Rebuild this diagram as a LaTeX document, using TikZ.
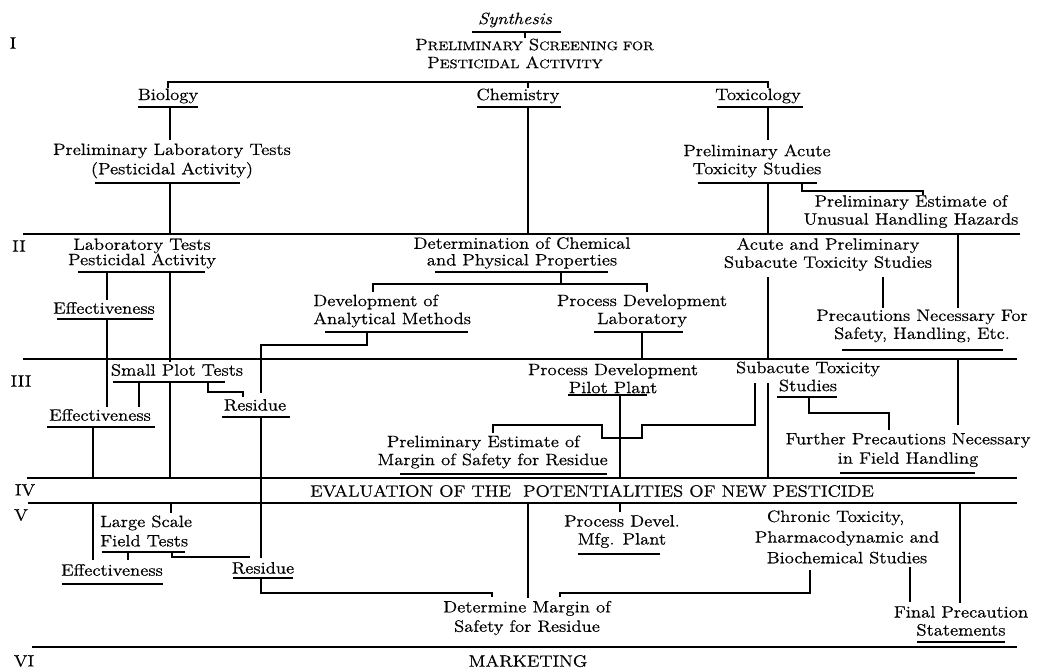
\documentclass[tikz,border=0pt]{standalone}
\usepackage{fontspec}
\setmainfont{Latin Modern Roman}[FakeStretch=1.14,FakeBold=0.6]
\newcommand{\SC}[1]{{\fontsize{9.25pt}{10pt}\selectfont #1}}
\begin{document}
\begin{tikzpicture}[x=0.75pt,y=-0.75pt,
  txt/.style={inner sep=0pt, align=center, font=\fontsize{12.3pt}{13.5pt}\selectfont},
  conn/.style={line width=1.15pt},
  stage/.style={line width=1.5pt},
  uline/.style={line width=0.8pt}]
\useasboundingbox (0,0) rectangle (1040,671);
% stage labels
\node[txt] (s1) at (13,43) {I};
\node[txt] (s2) at (19,246) {II};
\node[txt] (s3) at (21,381) {III};
\node[txt] (s4) at (25,490) {IV};
\node[txt] (s5) at (21,515) {V};
\node[txt] (s6) at (24,661) {VI};
% stage lines
\draw[stage] (23,234) -- (1020,234);
\draw[stage] (23,359) -- (1017,359);
\draw[stage] (27,478) -- (1017,478);
\draw[stage] (28,503) -- (1017,503);
\draw[stage] (32,647) -- (1017,647);
% texts
\node[txt] (syn) at (515,20) {\itshape Synthesis};
\node[txt, anchor=west, align=left] (pspa) at (415,53.5) {P\SC{RELIMINARY} S\SC{CREENING FOR}\\\hspace*{9pt}P\SC{ESTICIDAL} A\SC{CTIVITY}};
\node[txt] (bio) at (168,96) {Biology};
\node[txt] (chem) at (518,96) {Chemistry};
\node[txt] (tox) at (758,96) {Toxicology};
\node[txt] (plt) at (172,161) {Preliminary Laboratory Tests\\[1pt](Pesticidal Activity)};
\node[txt] (pat) at (757,161) {Preliminary Acute\\Toxicity Studies};
\node[txt] (peuh) at (911,211.5) {Preliminary Estimate of\\Unusual Handling Hazards};
\node[txt] (lt) at (142,253.5) {Laboratory Tests\\[-2pt]Pesticidal Activity};
\node[txt] (dcp) at (522,253) {Determination of Chemical\\[-1pt]and Physical Properties};
\node[txt] (aps) at (828,254.5) {Acute and Preliminary\\Subacute Toxicity Studies};
\node[txt] (eff2) at (104,308) {Effectiveness};
\node[txt, anchor=west, align=left] (dam) at (313,311) {Development of\\Analytical Methods};
\node[txt] (pdl) at (642,311) {Process Development\\Laboratory};
\node[txt] (pnf) at (922,326) {Precautions Necessary For\\Safety, Handling, Etc.};
\node[txt] (spt) at (177,370) {Small Plot Tests};
\node[txt] (res3) at (255,405) {Residue};
\node[txt] (eff3) at (100,415) {Effectiveness};
\node[txt] (pdpp) at (613,378.5) {Process Development\\Pilot Plant};
\node[txt] (sts) at (808,376.5) {Subacute Toxicity\\Studies};
\node[txt] (pems) at (488,452) {Preliminary Estimate of\hspace*{7pt}\\\hspace*{7pt}Margin of Safety for Residue};
\node[txt] (fpn) at (908,450) {Further Precautions Necessary\\[1pt]in Field Handling};
\node[txt] (eval) at (592,491) {EVALUATION OF THE\ \ POTENTIALITIES OF NEW PESTICIDE};
\node[txt, anchor=west, align=left] (lsft) at (100,531) {Large Scale\\[1pt]Field Tests};
\node[txt] (eff5) at (112,570) {Effectiveness};
\node[txt] (res5) at (263,568) {Residue};
\node[txt] (pdmp) at (622,531.5) {Process Devel.\\Mfg. Plant};
\node[txt] (ct) at (847,537) {Chronic Toxicity,\hspace*{17pt}\\[2pt]Pharmacodynamic and\\[2pt]Biochemical Studies};
\node[txt] (dms) at (527,618) {Determine Margin of\\[1pt]Safety for Residue};
\node[txt] (fps) at (961,621) {Final Precaution\\Statements};
\node[txt] (mkt) at (528,661) {MARKETING};
% underlines
\draw[uline] (472,32) -- (561,32);
\draw[uline] (138,107) -- (198,107);
\draw[uline] (477,107) -- (561,107);
\draw[uline] (717,107) -- (803,107);
\draw[uline] (95,183) -- (240,183);
\draw[uline] (698,183) -- (817,183);
\draw[uline] (78,272) -- (205,272);
\draw[uline] (435,272) -- (608,272);
\draw[uline] (57,319) -- (153,319);
\draw[uline] (325,332) -- (468,332);
\draw[uline] (594,332) -- (683,332);
\draw[uline] (842,350) -- (1003,350);
\draw[uline] (113,382) -- (225,382);
\draw[uline] (222,417) -- (290,417);
\draw[uline] (47,427) -- (155,427);
\draw[uline] (568,395) -- (647,395);
\draw[uline] (777,397) -- (837,397);
\draw[uline] (400,474) -- (607,474);
\draw[uline] (840,473) -- (975,473);
\draw[uline] (102,552) -- (185,552);
\draw[uline] (62,584) -- (163,584);
\draw[uline] (233,578) -- (293,578);
\draw[uline] (578,554) -- (660,554);
\draw[uline] (917,642) -- (1005,642);
% connectors
\draw[conn] (525,32) -- (525,38);
\draw[conn] (168,88) -- (168,82) -- (768,82) -- (768,88);
\draw[conn] (528,82) -- (528,88);
\draw[conn] (170,107) -- (170,140);
\draw[conn] (170,183) -- (170,234);
\draw[conn] (528,107) -- (528,234);
\draw[conn] (768,107) -- (768,140);
\draw[conn] (768,183) -- (768,234);
\draw[conn] (802,183) -- (802,191) -- (923,191) -- (923,195);
\draw[conn] (170,272) -- (170,362);
\draw[conn] (170,382) -- (170,478);
\draw[conn] (107,272) -- (107,300);
\draw[conn] (107,319) -- (107,407);
\draw[conn] (139,382) -- (139,407);
\draw[conn] (208,382) -- (208,392) -- (243,392) -- (243,397);
\draw[conn] (367,332) -- (367,345) -- (261,345) -- (261,393);
\draw[conn] (261,417) -- (261,558);
\draw[conn] (93,427) -- (93,478);
\draw[conn] (93,503) -- (93,560);
\draw[conn] (171,503) -- (171,513);
\draw[conn] (128,552) -- (128,560);
\draw[conn] (172,552) -- (172,557) -- (250,557);
\draw[conn] (261,578) -- (261,593) -- (492,593) -- (492,597);
\draw[conn] (810,570) -- (810,593) -- (560,593) -- (560,597);
\draw[conn] (528,503) -- (528,598);
\draw[conn] (620,503) -- (620,512);
\draw[conn] (960,503) -- (960,603);
\draw[conn] (910,567) -- (910,602);
\draw[conn] (561,272) -- (561,284);
\draw[conn] (373,292) -- (373,284) -- (647,284) -- (647,292);
\draw[conn] (642,332) -- (642,359);
\draw[conn] (620,395) -- (620,478);
\draw[conn] (755,383) -- (755,425) -- (642,425) -- (642,438) -- (602,438) -- (602,425) -- (493,425) -- (493,433);
\draw[conn] (768,277) -- (768,359);
\draw[conn] (768,383) -- (768,478);
\draw[conn] (883,277) -- (883,308);
\draw[conn] (958,234) -- (958,308);
\draw[conn] (958,359) -- (958,425);
\draw[conn] (809,397) -- (809,413) -- (889,413) -- (889,430);
\end{tikzpicture}
\end{document}
